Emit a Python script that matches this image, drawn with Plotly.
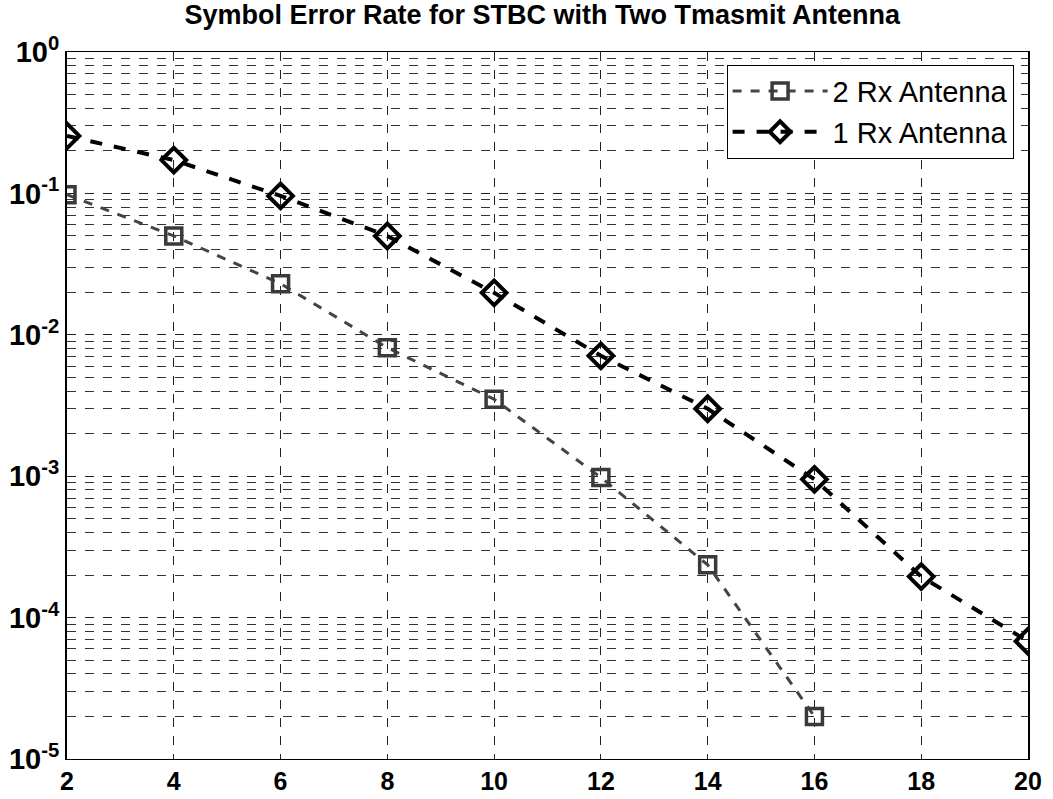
import plotly.graph_objects as go

snr = [2, 4, 6, 8, 10, 12, 14, 16, 18, 20]
ser_1rx = [0.255, 0.172, 0.096, 0.050, 0.0198, 0.0071, 0.0030, 0.00095, 0.000195, 6.8e-5]
snr_2rx = [2, 4, 6, 8, 10, 12, 14, 16]
ser_2rx = [0.098, 0.050, 0.023, 0.0081, 0.0035, 0.00098, 0.000236, 2.0e-5]

xticks = [2, 4, 6, 8, 10, 12, 14, 16, 18, 20]
yticks = [1, 1e-1, 1e-2, 1e-3, 1e-4, 1e-5]
yticktext = ["<b>10<sup>0</sup></b>", "<b>10<sup>-1</sup></b>", "<b>10<sup>-2</sup></b>",
             "<b>10<sup>-3</sup></b>", "<b>10<sup>-4</sup></b>", "<b>10<sup>-5</sup></b>"]
minor_digits = [2, 3, 4, 5, 6, 7, 8, 9]
decades = [1e-5, 1e-4, 1e-3, 1e-2, 1e-1]
minor_vals = [d * k for d in decades for k in minor_digits]

FONT = "Liberation Sans, Arial, sans-serif"

fig = go.Figure()
fig.add_trace(go.Scatter(
    x=snr_2rx, y=ser_2rx, name="2 Rx Antenna", mode="lines+markers",
    line=dict(color="#444444", width=3, dash="dash"),
    marker=dict(symbol="square-open", size=16, color="#3a3a3a", line=dict(width=3.5, color="#3a3a3a")),
))
fig.add_trace(go.Scatter(
    x=snr, y=ser_1rx, name="1 Rx Antenna", mode="lines+markers",
    line=dict(color="#000000", width=4, dash="dash"),
    marker=dict(symbol="diamond-open", size=19, color="#000000", line=dict(width=4, color="#000000")),
))

fig.update_layout(
    width=1053, height=799,
    margin=dict(l=67, r=25, t=52, b=40),
    paper_bgcolor="white", plot_bgcolor="white",
    font=dict(family=FONT, color="black"),
    title=dict(text="<b>Symbol Error Rate for STBC with Two Tmasmit Antenna</b>",
               x=0.515, xanchor="center", y=0.982, yanchor="middle",
               font=dict(size=27, family=FONT, color="black")),
    legend=dict(x=0.985, xanchor="right", y=0.982, yanchor="top",
                bordercolor="black", borderwidth=1, bgcolor="white",
                font=dict(size=29, family=FONT, color="black"),
                itemwidth=95, tracegroupgap=0),
    showlegend=True,
)

fig.update_xaxes(
    automargin=False,
    range=[2, 20], tickvals=xticks, ticktext=["<b>%d</b>" % v for v in xticks],
    tickfont=dict(size=25, family=FONT, color="black"),
    showgrid=True, gridcolor="#222222", gridwidth=1, griddash="dash",
    showline=True, linecolor="black", linewidth=1, mirror=True,
    ticks="", zeroline=False,
)
fig.update_yaxes(
    automargin=False,
    type="log", range=[-5, 0], tickvals=yticks, ticktext=yticktext,
    tickfont=dict(size=29, family=FONT, color="black"),
    showgrid=True, gridcolor="#222222", gridwidth=1, griddash="dash",
    minor=dict(tickvals=minor_vals, showgrid=True, gridcolor="#333333", gridwidth=1,
               griddash="dash", ticks=""),
    showline=True, linecolor="black", linewidth=2, mirror=True,
    ticks="", zeroline=False,
)

fig.write_html("out.html")
